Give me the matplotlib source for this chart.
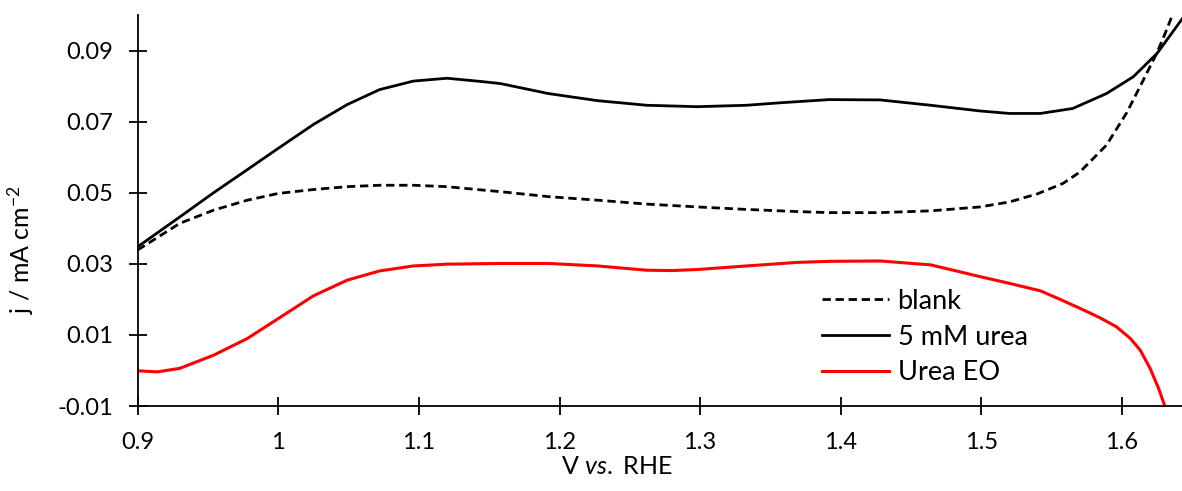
import matplotlib.pyplot as plt

plt.rcParams['font.family'] = ['Lato', 'DejaVu Sans']
plt.rcParams['mathtext.fontset'] = 'custom'
plt.rcParams['mathtext.rm'] = 'Lato'
plt.rcParams['mathtext.it'] = 'Lato:italic'

# potential (V vs. RHE) and current density (mA cm-2)
v_blank = [0.9, 0.93, 0.954, 0.978, 1.0, 1.025, 1.049, 1.072, 1.096, 1.12, 1.144, 1.158,
           1.192, 1.227, 1.262, 1.298, 1.333, 1.369, 1.392, 1.428, 1.464, 1.499, 1.52,
           1.54, 1.558, 1.57, 1.589, 1.6034, 1.6152, 1.6247, 1.6307, 1.6354]
j_blank = [0.0339, 0.0414, 0.0451, 0.0479, 0.0498, 0.0509, 0.0517, 0.0521, 0.0521, 0.0517,
           0.0508, 0.0503, 0.0489, 0.0479, 0.0468, 0.0460, 0.0453, 0.0447, 0.0444, 0.0444,
           0.0449, 0.0460, 0.0474, 0.0497, 0.0526, 0.0558, 0.0634, 0.0725, 0.0817, 0.0892,
           0.0948, 0.0995]

v_urea = [0.9, 0.93, 0.954, 0.978, 1.0, 1.025, 1.049, 1.072, 1.096, 1.12, 1.144, 1.158,
          1.192, 1.227, 1.262, 1.298, 1.333, 1.357, 1.392, 1.428, 1.464, 1.499, 1.52, 1.542,
          1.565, 1.589, 1.608, 1.625, 1.643]
j_urea = [0.0348, 0.0432, 0.0500, 0.0565, 0.0625, 0.0692, 0.0748, 0.0790, 0.0814, 0.0822,
          0.0813, 0.0807, 0.0779, 0.0759, 0.0746, 0.0742, 0.0746, 0.0753, 0.0762, 0.0761,
          0.0746, 0.0730, 0.0723, 0.0723, 0.0737, 0.0779, 0.0826, 0.0892, 0.0990]

v_eo = [0.9, 0.914, 0.93, 0.954, 0.978, 1.0, 1.025, 1.049, 1.072, 1.096, 1.12, 1.158, 1.192,
        1.227, 1.262, 1.28, 1.298, 1.333, 1.369, 1.392, 1.428, 1.464, 1.499, 1.52, 1.542,
        1.556, 1.57, 1.584, 1.596, 1.606, 1.613, 1.62, 1.626, 1.6305]
j_eo = [-0.0001, -0.0004, 0.0006, 0.0043, 0.0090, 0.0146, 0.0210, 0.0254, 0.0280, 0.0294,
        0.0299, 0.0301, 0.0301, 0.0294, 0.0282, 0.0281, 0.0284, 0.0294, 0.0304, 0.0307,
        0.0308, 0.0297, 0.0264, 0.0245, 0.0224, 0.0200, 0.0175, 0.0149, 0.0123, 0.0090,
        0.0057, 0.0006, -0.0050, -0.0100]

fig = plt.figure(figsize=(11.82, 4.91), dpi=100)
ax = fig.add_axes([0.1165, 0.1731, 0.8835, 0.7964])

ax.plot(v_blank, j_blank, color='black', lw=2.0, ls=(0, (3, 1.7)), label='blank')
ax.plot(v_urea, j_urea, color='black', lw=2.0, label='5 mM urea')
ax.plot(v_eo, j_eo, color='#ff0000', lw=2.2, label='Urea EO')

ax.set_xlim(0.9, 1.6427)
ax.set_ylim(-0.01, 0.1)
ax.set_xticks([0.9, 1.0, 1.1, 1.2, 1.3, 1.4, 1.5, 1.6])
ax.set_xticklabels(['0.9', '1', '1.1', '1.2', '1.3', '1.4', '1.5', '1.6'])
ax.set_yticks([-0.01, 0.01, 0.03, 0.05, 0.07, 0.09])
ax.set_yticklabels(['-0.01', '0.01', '0.03', '0.05', '0.07', '0.09'])

for s in ['top', 'right']:
    ax.spines[s].set_visible(False)
for s in ['left', 'bottom']:
    ax.spines[s].set_linewidth(1.3)
ax.tick_params(direction='inout', length=13, width=1.3, labelsize=17)
ax.tick_params(axis='x', pad=12)
ax.tick_params(axis='y', pad=11)

ax.set_xlabel('V $\\mathit{vs.}$ RHE', fontsize=18)
ax.set_ylabel('j / mA cm$^{\\mathregular{-2}}$', fontsize=18)
ax.xaxis.set_label_coords(0.459, -0.125)
ax.yaxis.set_label_coords(-0.097, 0.40)

ax.legend(loc='upper left', bbox_to_anchor=(0.655, 0.30), frameon=False, fontsize=19.5,
          borderpad=0, borderaxespad=0, handlelength=2.5, handletextpad=0.3,
          labelspacing=0.4)

plt.savefig('out.png', dpi=100)
